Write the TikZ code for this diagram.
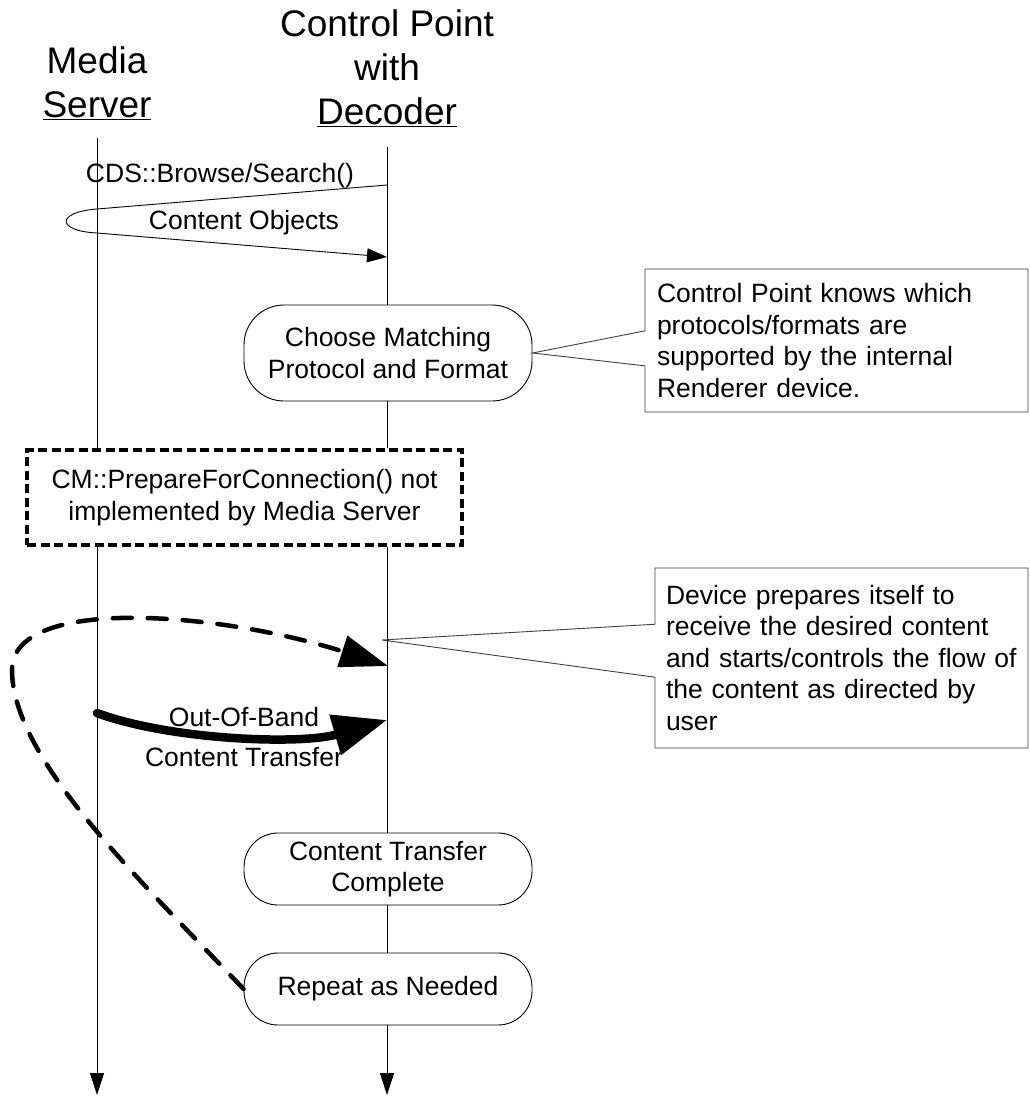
\documentclass[tikz,border=0pt]{standalone}
\usepackage{fontspec}
\setmainfont{Liberation Sans}
\usetikzlibrary{arrows.meta,shapes.callouts}
\tikzset{
  big/.style={font=\fontsize{37}{44}\selectfont, align=center, inner sep=0pt},
  small/.style={font=\fontsize{26.5}{31.5}\selectfont, inner sep=0pt},
  term/.style={small, draw, line width=0.9pt, rectangle, rounded corners=34pt,
    align=center, minimum width=288pt},
  note/.style={small, draw=black!75, line width=0.9pt, rectangle callout, align=left, inner ysep=0pt},
  life/.style={line width=0.9pt},
  tip/.style={-{Triangle[length=22pt,width=14pt]}},
}
\begin{document}
\begin{tikzpicture}[x=1pt,y=-1pt]
  \path[fill=white] (0,0) rectangle (1030,1097);
  \node[big] (ms) at (97,83) {Media\\\underline{Server}};
  \node[big] (cp) at (387,68.5) {Control Point\\with\\\underline{Decoder}};
  \coordinate (mstop) at (97,138);
  \coordinate (cptop) at (387,147);
  \coordinate (msend) at (97,1095);
  \coordinate (cpend) at (387,1095);
  \coordinate (ask) at (387,185);
  \coordinate (reply) at (387,257);
  \coordinate (flow) at (382,640);
  \coordinate (oob) at (97,713);
  \coordinate (oobend) at (387,720);
  \coordinate (loopend) at (388,666);

  \node[term, rounded corners=40pt, minimum height=96pt] (choose) at (388,353) {Choose Matching\\Protocol and Format};
  \node[small, draw, line width=3.2pt, dash pattern=on 9pt off 4.5pt, align=center,
    minimum width=435pt, minimum height=95pt] (prep) at (244.5,497.5)
    {CM::PrepareForConnection() not\\implemented by Media Server};
  \node[term, minimum height=72pt] (done) at (388,869) {Content Transfer\\Complete};
  \node[term, minimum height=72pt] (again) at (388,989) {Repeat as Needed};

  \node[note, text width=359pt, inner xsep=12pt, minimum height=143pt,
    callout absolute pointer=(choose.east), callout pointer width=35pt] (know) at (836.5,340.5)
    {Control Point knows which\\protocols/formats are\\supported by the internal\\Renderer device.};
  \node[note, text width=351pt, inner xsep=11pt, minimum height=180pt,
    callout absolute pointer=(flow), callout pointer width=53pt] (prepares) at (841.5,658)
    {Device prepares itself to\\receive the desired content\\and starts/controls the flow of\\the content as directed by\\user};

  \draw[life] (mstop) -- (mstop |- prep.north);
  \draw[life, tip] (mstop |- prep.south) -- (msend);
  \draw[life] (cptop) -- (cptop |- choose.north);
  \draw[life] (cptop |- choose.south) -- (cptop |- prep.north);
  \draw[life] (cptop |- prep.south) -- (cptop |- done.north);
  \draw[life] (cptop |- done.south) -- (cptop |- again.north);
  \draw[life, tip] (cptop |- again.south) -- (cpend);

  \draw[line width=0.9pt, -{Triangle[length=20pt,width=14pt]}] (ask) -- (97,209)
    .. controls (56,212) and (56,231) .. (97,233) -- (reply);
  \node[small, anchor=base] (browse) at (220,182) {CDS::Browse/Search()};
  \node[small, anchor=base] (objects) at (244,229) {Content Objects};

  \draw[line width=8.5pt, line cap=round, -{Triangle[length=54pt,width=40pt]}] (oob)
    .. controls (170,740) and (300,745) .. (oobend);
  \node[small, align=center] (transfer) at (244,737.5) {Out-Of-Band\\[8.5pt]Content Transfer};

  \draw[line width=4.5pt, line cap=round, dash pattern=on 19pt off 16pt,
    -{Triangle[length=48pt,width=32pt]}] (again.west)
    .. controls (145,885) and (12,760) .. (12,670)
    .. controls (12,595) and (220,612) .. (loopend);
\end{tikzpicture}
\end{document}
